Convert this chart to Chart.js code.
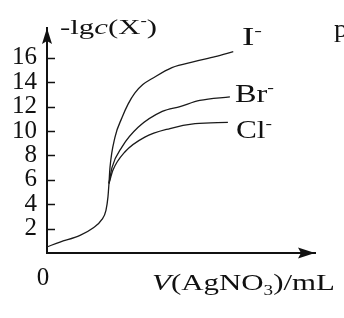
<!DOCTYPE html>
<html>
<head>
<meta charset="utf-8">
<script src="https://cdn.jsdelivr.net/npm/chart.js@4"></script>
<style>
html,body{margin:0;padding:0;background:#fff;}
#wrap{width:344px;height:318px;position:relative;}
</style>
</head>
<body>
<div id="wrap"><canvas id="c" width="344" height="318"></canvas></div>
<script>
// ---- data ----
const xCommon = [0, 1.94, 4.93, 6.87, 8.2, 8.8, 9.1, 9.25];
const yCommon = [0.5, 0.9, 1.45, 2.05, 2.75, 3.5, 4.6, 5.7];
const xI  = [9.4, 10.15, 11.2, 12.1, 13.1, 14.3, 15.7, 18.65, 22.1, 25.1, 27.8];
const yI  = [7.0, 9.5, 11.1, 12.2, 13.1, 13.8, 14.3, 15.2, 15.7, 16.1, 16.5];
const xBr = [9.7, 11.2, 13.6, 17.2, 19.85, 22.8, 27.3];
const yBr = [7.0, 8.7, 10.3, 11.6, 12.0, 12.5, 12.8];
const xCl = [9.85, 11.65, 14.6, 18.35, 22.1, 27.0];
const yCl = [6.8, 8.3, 9.5, 10.2, 10.6, 10.7];
const yTicks = [2, 4, 6, 8, 10, 12, 14, 16];
const xTicks = [0];
const seriesNames = ['I', 'Br', 'Cl'];

const FONT = '"Liberation Serif", "Times New Roman", serif';

function pts(xs, ys) { return xs.map((x, i) => ({ x: x, y: ys[i] })); }
const lastC = xCommon.length - 1;
const commonPts = pts(xCommon, yCommon);
const startPt = { x: xCommon[lastC], y: yCommon[lastC] };

function lineDs(name, data) {
  return {
    label: name, data: data, borderColor: '#1a1a1a', borderWidth: 1.3,
    pointRadius: 0, fill: false, cubicInterpolationMode: 'monotone'
  };
}

function drawRich(ctx, parts, x, y, size, targetW) {
  const fontOf = p => (p.it ? 'italic ' : '') + ((p.sup || p.sub) ? size * 0.62 : size) + 'px ' + FONT;
  let w = 0;
  parts.forEach(p => { ctx.font = fontOf(p); w += ctx.measureText(p.t).width; });
  const sx = targetW ? targetW / w : 1;
  ctx.save();
  ctx.translate(x, y);
  ctx.scale(sx, 1);
  ctx.fillStyle = '#111';
  ctx.textBaseline = 'alphabetic';
  ctx.textAlign = 'left';
  let cx = 0;
  parts.forEach(p => {
    ctx.font = fontOf(p);
    const dy = p.sup ? -size * 0.42 : (p.sub ? size * 0.2 : 0);
    ctx.fillText(p.t, cx, dy);
    cx += ctx.measureText(p.t).width;
  });
  ctx.restore();
}

const decor = {
  id: 'decor',
  afterDraw(chart) {
    const ctx = chart.ctx;
    const a = chart.chartArea;
    const ys = chart.scales.y;
    ctx.save();
    ctx.strokeStyle = '#111';
    ctx.lineWidth = 1.5;
    yTicks.forEach(v => {
      const py = Math.round(ys.getPixelForValue(v)) + 0.5;
      ctx.beginPath(); ctx.moveTo(a.left, py); ctx.lineTo(a.left + 8, py); ctx.stroke();
    });
    ctx.fillStyle = '#111';
    ctx.beginPath();
    ctx.moveTo(a.left, a.top);
    ctx.lineTo(a.left - 5, a.top + 16);
    ctx.lineTo(a.left, a.top + 13);
    ctx.lineTo(a.left + 5, a.top + 16);
    ctx.closePath(); ctx.fill();
    ctx.beginPath();
    ctx.moveTo(a.right, a.bottom);
    ctx.lineTo(a.right - 17, a.bottom - 5.5);
    ctx.lineTo(a.right - 14, a.bottom);
    ctx.lineTo(a.right - 17, a.bottom + 5.5);
    ctx.closePath(); ctx.fill();
    ctx.restore();
    drawRich(ctx, [{ t: '-lg' }, { t: 'c', it: true }, { t: '(X' }, { t: '-', sup: true }, { t: ')' }], 60, 34, 22, 97);
    drawRich(ctx, [{ t: 'V', it: true }, { t: '(AgNO' }, { t: '3', sub: true }, { t: ')/mL' }], 152, 290, 23, 183);
    drawRich(ctx, [{ t: seriesNames[0] }, { t: '-', sup: true }], 242, 45, 25, 20);
    drawRich(ctx, [{ t: seriesNames[1] }, { t: '-', sup: true }], 235, 102, 25, 39);
    drawRich(ctx, [{ t: seriesNames[2] }, { t: '-', sup: true }], 236, 138, 25, 36);
    drawRich(ctx, [{ t: 'p' }], 334, 37, 25, 14);
  }
};

new Chart(document.getElementById('c'), {
  type: 'line',
  data: {
    datasets: [
      lineDs(seriesNames[0], commonPts.concat(pts(xI, yI))),
      lineDs(seriesNames[1], [startPt].concat(pts(xBr, yBr))),
      lineDs(seriesNames[2], [startPt].concat(pts(xCl, yCl)))
    ]
  },
  options: {
    responsive: false,
    animation: false,
    events: [],
    layout: { padding: { top: 28, right: 29, left: 0, bottom: 0 } },
    plugins: { legend: { display: false }, tooltip: { enabled: false } },
    scales: {
      x: {
        type: 'linear', min: 0, max: 40,
        grid: { display: false, drawTicks: false },
        border: { display: true, color: '#111', width: 2 },
        afterBuildTicks: s => { s.ticks = xTicks.map(v => ({ value: v })); },
        afterFit: s => { s.height = 65; },
        ticks: { color: '#111', padding: 10, labelOffset: -4, autoSkip: false, font: { family: FONT, size: 25 }, maxRotation: 0 }
      },
      y: {
        type: 'linear', min: 0, max: 18.44,
        grid: { display: false, drawTicks: false },
        border: { display: true, color: '#111', width: 2 },
        afterBuildTicks: s => { s.ticks = yTicks.map(v => ({ value: v })); },
        afterFit: s => { s.width = 47; },
        ticks: { color: '#111', padding: 10, autoSkip: false, font: { family: FONT, size: 25 } }
      }
    }
  },
  plugins: [decor]
});
</script>
</body>
</html>
